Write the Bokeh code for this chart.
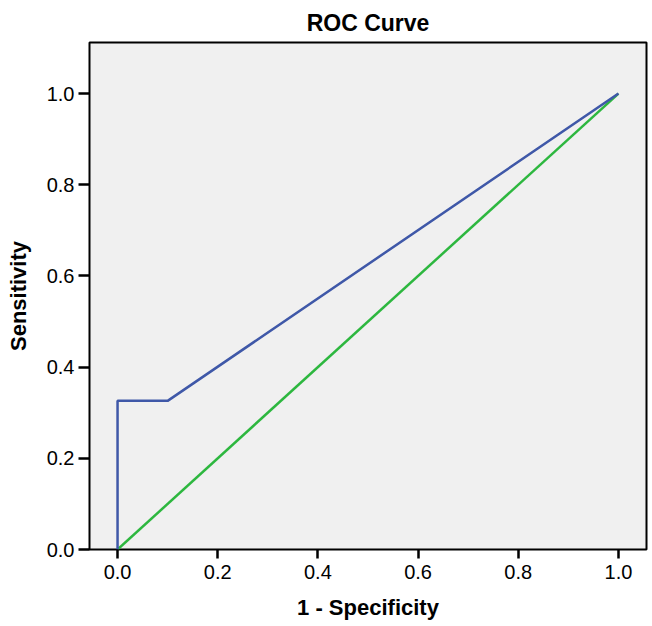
from bokeh.plotting import figure
from bokeh.models import FixedTicker, NumeralTickFormatter, Range1d
from bokeh.embed import file_html
from bokeh.resources import INLINE

# data
roc_fpr = [0.0, 0.0, 0.1, 1.0]
roc_tpr = [0.0, 0.326, 0.326, 1.0]
ref_x = [0.0, 1.0]
ref_y = [0.0, 1.0]
ticks = [0.0, 0.2, 0.4, 0.6, 0.8, 1.0]

FONT = "Liberation Sans"

p = figure(width=652, height=626, output_backend="svg", toolbar_location=None,
           x_range=Range1d(-0.056, 1.056), y_range=Range1d(0.0, 1.112),
           title="ROC Curve",
           min_border_left=89, min_border_right=6, min_border_top=41, min_border_bottom=77)

p.title.align = "center"
p.title.text_font = FONT
p.title.text_font_size = "23px"
p.title.text_font_style = "bold"
p.title.text_color = "black"
p.title.standoff = 14

p.background_fill_color = "#f0f0f0"
p.border_fill_color = "white"
p.outline_line_color = "black"
p.outline_line_width = 2
p.xgrid.visible = False
p.ygrid.visible = False

for ax in (p.xaxis[0], p.yaxis[0]):
    ax.ticker = FixedTicker(ticks=ticks)
    ax.formatter = NumeralTickFormatter(format="0.0")
    ax.axis_line_color = None
    ax.major_tick_in = 0
    ax.major_tick_line_width = 2.5
    ax.major_tick_line_color = "black"
    ax.minor_tick_line_color = None
    ax.major_label_text_font = FONT
    ax.major_label_text_font_size = "20px"
    ax.major_label_text_color = "black"
    ax.axis_label_text_font = FONT
    ax.axis_label_text_font_size = "22px"
    ax.axis_label_text_font_style = "bold"
    ax.axis_label_text_color = "black"

p.xaxis.major_tick_out = 9
p.yaxis.major_tick_out = 11
p.xaxis.axis_label = "1 - Specificity"
p.yaxis.axis_label = "Sensitivity"
p.xaxis.major_label_standoff = 6
p.yaxis.major_label_standoff = 4
p.xaxis.axis_label_standoff = 13
p.yaxis.axis_label_standoff = 13

p.line(ref_x, ref_y, line_color="#2db73f", line_width=2.5)
p.line(roc_fpr, roc_tpr, line_color="#3f58a8", line_width=2.5)

open("out.html", "w").write(file_html(p, INLINE))
